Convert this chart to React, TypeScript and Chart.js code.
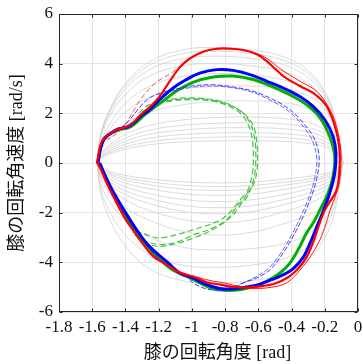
import React, { useEffect, useRef } from 'react';
import { Chart, registerables } from 'chart.js';
Chart.register(...registerables);

type P = [number, number];

const X_TICKS = [-1.8, -1.6, -1.4, -1.2, -1, -0.8, -0.6, -0.4, -0.2, 0];
const X_TICK_LABELS = ['-1.8', '-1.6', '-1.4', '-1.2', '-1', '-0.8', '-0.6', '-0.4', '-0.2', '0'];
const Y_TICKS = [-6, -4, -2, 0, 2, 4, 6];
const Y_TICK_LABELS = ['-6', '-4', '-2', '0', '2', '4', '6'];

const X_TITLE = '\u2002\u2002膝の回転角度 [rad]';
const Y_TITLE = '膝の回転角速度 [rad/s]';

// background reference trajectories (gray)
const GRAY_X = [-1.57, -1.55, -1.5, -1.4, -1.25, -1.05, -0.85, -0.65, -0.45, -0.3, -0.2, -0.14, -0.09];
const GRAY_UPPER: number[][] = [
  [0, 1.12, 2.09, 3.21, 4.09, 4.56, 4.65, 4.56, 4.28, 3.72, 2.88, 1.86, 0],
  [0, 1.08, 2.03, 3.11, 3.96, 4.41, 4.5, 4.41, 4.14, 3.6, 2.79, 1.8, 0],
  [0, 1.03, 1.94, 2.97, 3.78, 4.21, 4.3, 4.21, 3.96, 3.44, 2.67, 1.72, 0],
  [0, 0.96, 1.8, 2.76, 3.52, 3.92, 4.0, 3.92, 3.68, 3.2, 2.48, 1.6, 0],
  [0, 0.8, 1.5, 2.4, 3.1, 3.5, 3.6, 3.55, 3.35, 2.95, 2.35, 1.5, 0],
  [0, 0.7, 1.3, 2.05, 2.65, 2.98, 3.08, 3.1, 3.0, 2.7, 2.2, 1.4, 0],
  [0, 0.5, 0.95, 1.55, 2.05, 2.35, 2.48, 2.5, 2.43, 2.2, 1.8, 1.13, 0],
  [0, 0.37, 0.7, 1.15, 1.52, 1.74, 1.83, 1.85, 1.79, 1.63, 1.33, 0.83, 0],
  [0, 0.32, 0.62, 1.0, 1.33, 1.52, 1.6, 1.62, 1.57, 1.43, 1.17, 0.73, 0],
  [0, 0.28, 0.54, 0.88, 1.16, 1.33, 1.41, 1.42, 1.38, 1.25, 1.02, 0.64, 0],
  [0, 0.24, 0.46, 0.76, 1.0, 1.15, 1.21, 1.22, 1.18, 1.07, 0.88, 0.55, 0],
  [0, 0.21, 0.4, 0.65, 0.86, 0.99, 1.04, 1.05, 1.02, 0.92, 0.76, 0.47, 0],
  [0, 0.18, 0.34, 0.56, 0.74, 0.85, 0.89, 0.9, 0.87, 0.79, 0.65, 0.41, 0],
];
const GRAY_LOWER: number[][] = [
  [0, -1.16, -2.18, -3.35, -4.27, -4.75, -4.85, -4.75, -4.46, -3.88, -3.01, -1.94, 0],
  [0, -1.01, -1.89, -2.9, -3.7, -4.12, -4.2, -4.12, -3.86, -3.36, -2.6, -1.68, 0],
  [0, -0.8, -1.5, -2.3, -3.0, -3.4, -3.5, -3.45, -3.25, -2.85, -2.25, -1.45, 0],
  [0, -0.58, -1.16, -1.8, -2.32, -2.76, -2.9, -2.8, -2.45, -2.1, -1.7, -1.1, 0],
  [0, -0.48, -0.96, -1.49, -1.92, -2.28, -2.4, -2.3, -1.97, -1.63, -1.3, -0.86, 0],
  [0, -0.41, -0.82, -1.27, -1.64, -1.95, -2.05, -1.97, -1.68, -1.39, -1.11, -0.74, 0],
  [0, -0.36, -0.72, -1.12, -1.44, -1.71, -1.8, -1.73, -1.48, -1.22, -0.97, -0.65, 0],
  [0, -0.31, -0.62, -0.96, -1.24, -1.47, -1.55, -1.49, -1.27, -1.05, -0.84, -0.56, 0],
  [0, -0.26, -0.52, -0.81, -1.04, -1.24, -1.3, -1.25, -1.07, -0.88, -0.7, -0.47, 0],
  [0, -0.22, -0.44, -0.68, -0.88, -1.05, -1.1, -1.06, -0.9, -0.75, -0.59, -0.4, 0],
  [0, -0.19, -0.38, -0.59, -0.76, -0.9, -0.95, -0.91, -0.78, -0.65, -0.51, -0.34, 0],
  [0, -0.16, -0.32, -0.5, -0.64, -0.76, -0.8, -0.77, -0.66, -0.54, -0.43, -0.29, 0],
];

const RED_MAIN: P[] = [
  [-1.57, 0], [-1.555, 0.6], [-1.53, 1.0], [-1.49, 1.2], [-1.44, 1.38], [-1.395, 1.45], [-1.354, 1.62],
  [-1.314, 1.9], [-1.254, 2.25], [-1.194, 2.68], [-1.133, 3.3], [-1.073, 3.85], [-1.013, 4.2], [-0.933, 4.48],
  [-0.852, 4.6], [-0.76, 4.6], [-0.67, 4.52], [-0.6, 4.35], [-0.55, 4.1], [-0.5, 3.8], [-0.45, 3.5],
  [-0.35, 3.1], [-0.27, 2.82], [-0.19, 2.3], [-0.14, 1.5], [-0.112, 0.6], [-0.112, -0.3], [-0.13, -1.1],
  [-0.2, -1.9], [-0.235, -2.5], [-0.27, -3.2], [-0.31, -3.8], [-0.36, -4.25], [-0.42, -4.6], [-0.5, -4.85],
  [-0.59, -4.97], [-0.67, -5.02], [-0.75, -4.99], [-0.83, -4.9], [-0.91, -4.8], [-0.99, -4.58], [-1.07, -4.43],
  [-1.15, -4.1], [-1.23, -3.78], [-1.29, -3.3], [-1.35, -2.75], [-1.41, -2.15], [-1.46, -1.5], [-1.51, -0.85],
  [-1.545, -0.3], [-1.57, 0],
];
const RED_THIN: P[] = [
  [-1.575, 0], [-1.56, 0.5], [-1.535, 0.95], [-1.5, 1.15], [-1.45, 1.32], [-1.4, 1.42], [-1.36, 1.58],
  [-1.32, 1.85], [-1.26, 2.2], [-1.2, 2.62], [-1.14, 3.22], [-1.08, 3.78], [-1.02, 4.18], [-0.94, 4.45],
  [-0.86, 4.58], [-0.78, 4.6], [-0.7, 4.55], [-0.62, 4.42], [-0.55, 4.22], [-0.48, 3.85], [-0.42, 3.58],
  [-0.33, 3.22], [-0.26, 2.95], [-0.2, 2.5], [-0.14, 1.7], [-0.105, 0.6], [-0.105, -0.3], [-0.12, -1.0],
  [-0.167, -1.88], [-0.2, -2.6], [-0.238, -3.22], [-0.29, -3.8], [-0.33, -4.16], [-0.43, -4.83], [-0.55, -5.03],
  [-0.65, -5.05], [-0.72, -4.98], [-0.8, -4.83], [-0.87, -4.76], [-0.95, -4.63], [-1.02, -4.5], [-1.1, -4.3],
  [-1.18, -3.98], [-1.25, -3.6], [-1.31, -3.1], [-1.37, -2.55], [-1.43, -1.95], [-1.48, -1.3], [-1.52, -0.7],
  [-1.55, -0.2], [-1.575, 0],
];
const RED_DASH: P[] = [
  [-1.52, 0.95], [-1.475, 1.07], [-1.41, 1.47], [-1.36, 2.0], [-1.31, 2.55], [-1.22, 3.22], [-1.11, 3.69], [-1.03, 4.16],
];
const BLUE_MAIN: P[] = [
  [-1.565, 0], [-1.55, 0.6], [-1.525, 1.0], [-1.485, 1.22], [-1.44, 1.38], [-1.39, 1.45], [-1.35, 1.62],
  [-1.31, 1.88], [-1.254, 2.15], [-1.194, 2.55], [-1.113, 3.02], [-1.033, 3.36], [-0.953, 3.62], [-0.852, 3.76],
  [-0.752, 3.73], [-0.651, 3.56], [-0.551, 3.3], [-0.45, 3.02], [-0.35, 2.68], [-0.27, 2.28], [-0.2, 1.74],
  [-0.15, 1.07], [-0.133, 0.4], [-0.14, -0.4], [-0.17, -1.21], [-0.21, -1.95], [-0.25, -2.6], [-0.288, -3.22],
  [-0.33, -3.8], [-0.39, -4.25], [-0.45, -4.5], [-0.52, -4.7], [-0.6, -4.9], [-0.68, -5.0], [-0.752, -5.07],
  [-0.832, -5.05], [-0.912, -4.9], [-0.993, -4.63], [-1.073, -4.43], [-1.153, -3.96], [-1.214, -3.62],
  [-1.274, -3.22], [-1.334, -2.68], [-1.39, -2.1], [-1.44, -1.55], [-1.49, -0.95], [-1.53, -0.4], [-1.555, 0],
];
const BLUE_DASH: P[] = [
  [-1.5, 1.1], [-1.44, 1.35], [-1.38, 1.7], [-1.32, 2.2], [-1.27, 2.55], [-1.2, 2.8], [-1.113, 2.95],
  [-0.993, 3.11], [-0.872, 3.15], [-0.752, 3.06], [-0.631, 2.89], [-0.51, 2.55], [-0.41, 2.15], [-0.33, 1.61],
  [-0.27, 1.07], [-0.24, 0.54], [-0.234, 0], [-0.25, -0.67], [-0.28, -1.34], [-0.33, -2.15], [-0.39, -2.95],
  [-0.45, -3.62], [-0.53, -4.3], [-0.61, -4.63], [-0.69, -4.83], [-0.772, -5.1], [-0.852, -5.13], [-0.932, -5.03],
  [-0.993, -4.83], [-1.033, -4.56], [-1.093, -4.3], [-1.153, -4.03], [-1.214, -3.76], [-1.26, -3.4], [-1.3, -3.0],
];
const BLUE_DASH2: P[] = [
  [-1.2, 2.75], [-1.11, 2.9], [-0.99, 3.06], [-0.87, 3.1], [-0.75, 3.02], [-0.63, 2.84], [-0.52, 2.5],
  [-0.42, 2.1], [-0.345, 1.6], [-0.285, 1.05], [-0.255, 0.5], [-0.248, 0], [-0.262, -0.65], [-0.292, -1.32],
  [-0.342, -2.12], [-0.4, -2.9], [-0.46, -3.58], [-0.54, -4.25], [-0.62, -4.6], [-0.7, -4.85], [-0.78, -5.05],
];
const GREEN_MAIN: P[] = [
  [-1.565, 0], [-1.55, 0.6], [-1.525, 1.0], [-1.48, 1.22], [-1.43, 1.35], [-1.38, 1.42], [-1.34, 1.6],
  [-1.3, 1.85], [-1.254, 2.1], [-1.173, 2.5], [-1.093, 2.9], [-0.993, 3.25], [-0.872, 3.46], [-0.752, 3.5],
  [-0.631, 3.36], [-0.51, 3.06], [-0.39, 2.68], [-0.29, 2.25], [-0.22, 1.74], [-0.17, 1.07], [-0.14, 0.27],
  [-0.15, -0.54], [-0.18, -1.21], [-0.228, -1.88], [-0.27, -2.42], [-0.31, -2.82], [-0.35, -3.36], [-0.41, -4.03],
  [-0.47, -4.43], [-0.55, -4.77], [-0.631, -4.99], [-0.711, -5.1], [-0.792, -5.13], [-0.872, -5.07], [-0.953, -4.83],
  [-1.033, -4.56], [-1.113, -4.32], [-1.194, -3.89], [-1.254, -3.49], [-1.314, -2.98], [-1.374, -2.42],
  [-1.43, -1.8], [-1.48, -1.15], [-1.525, -0.5], [-1.555, 0],
];
const GREEN_DASH1: P[] = [
  [-1.32, 2.0], [-1.27, 2.3], [-1.214, 2.42], [-1.113, 2.58], [-0.993, 2.62], [-0.872, 2.55], [-0.772, 2.35],
  [-0.691, 2.01], [-0.641, 1.48], [-0.621, 0.94], [-0.615, 0.27], [-0.621, -0.4], [-0.641, -0.94], [-0.675, -1.45],
  [-0.71, -1.6], [-0.81, -2.41], [-0.99, -3.02], [-1.19, -3.36], [-1.274, -3.22], [-1.344, -2.82],
];
const GREEN_DASH2: P[] = [
  [-1.3, 2.05], [-1.22, 2.35], [-1.12, 2.5], [-1.0, 2.55], [-0.88, 2.5], [-0.78, 2.3], [-0.7, 1.95],
  [-0.655, 1.45], [-0.635, 0.9], [-0.63, 0.25], [-0.635, -0.4], [-0.655, -0.95], [-0.69, -1.5], [-0.77, -2.2],
  [-0.87, -2.6], [-0.99, -2.9], [-1.1, -3.2], [-1.2, -3.28], [-1.3, -3.1], [-1.36, -2.8],
];
const GREEN_DASH3: P[] = [
  [-1.3, 2.0], [-1.2, 2.4], [-1.1, 2.55], [-0.99, 2.58], [-0.87, 2.52], [-0.77, 2.32], [-0.685, 1.98],
  [-0.63, 1.5], [-0.61, 0.9], [-0.605, 0.27], [-0.61, -0.4], [-0.635, -0.95], [-0.665, -1.2], [-0.69, -1.34],
  [-0.81, -2.21], [-0.99, -2.68], [-1.19, -3.02], [-1.26, -2.92], [-1.33, -2.75],
];

const FONT = "'Liberation Serif', 'Times New Roman', 'Noto Sans CJK JP', serif";
const TITLE_FONT = "'Liberation Serif', 'Noto Sans CJK JP', serif";

const toXY = (pts: P[]) => pts.map(([x, y]) => ({ x, y }));

const boxPlugin = {
  id: 'boxFrame',
  afterDatasetsDraw(chart: any) {
    const { ctx, chartArea: a, scales } = chart;
    ctx.save();
    ctx.strokeStyle = '#262626';
    ctx.lineWidth = 1;
    const l = Math.round(a.left) + 0.5, r = Math.round(a.right) - 0.5;
    const t = Math.round(a.top) + 0.5, b = Math.round(a.bottom) - 0.5;
    ctx.strokeRect(l, t, r - l, b - t);
    ctx.beginPath();
    X_TICKS.forEach((v) => {
      const px = Math.round(scales.x.getPixelForValue(v)) + 0.5;
      ctx.moveTo(px, b); ctx.lineTo(px, b - 3);
      ctx.moveTo(px, t); ctx.lineTo(px, t + 3);
    });
    Y_TICKS.forEach((v) => {
      const py = Math.round(scales.y.getPixelForValue(v)) + 0.5;
      ctx.moveTo(l, py); ctx.lineTo(l + 3, py);
      ctx.moveTo(r, py); ctx.lineTo(r - 3, py);
    });
    ctx.stroke();
    ctx.restore();
  },
};

export default function App() {
  const ref = useRef<HTMLCanvasElement | null>(null);
  useEffect(() => {
    document.body.style.margin = '0';
    if (!ref.current) return;
    const line = (pts: P[], color: string, width: number, dash: number[] = [], order = 1) => ({
      data: toXY(pts),
      borderColor: color,
      backgroundColor: color,
      borderWidth: width,
      borderDash: dash,
      pointRadius: 0,
      showLine: true,
      tension: 0.35,
      fill: false,
      order,
    });
    const grays = GRAY_UPPER.concat(GRAY_LOWER).map((ys) => ({
      data: GRAY_X.map((x, i) => ({ x, y: ys[i] })),
      borderColor: 'rgb(208,208,208)',
      borderWidth: 0.8,
      pointRadius: 0,
      showLine: true,
      tension: 0.4,
      fill: false,
      order: 20,
    }));
    const chart = new Chart(ref.current, {
      type: 'scatter',
      data: {
        datasets: [
          line(RED_MAIN, '#ff0000', 2.2, [], 0),
          line(RED_THIN, 'rgba(255,0,0,0.9)', 1, [], 1),
          line(RED_DASH, 'rgba(235,40,40,0.8)', 1, [5, 3], 1),
          line(BLUE_MAIN, '#0000ff', 3, [], 2),
          line(BLUE_DASH, 'rgba(40,40,255,0.9)', 1, [5, 2], 3),
          line(BLUE_DASH2, 'rgba(40,40,255,0.7)', 1, [5, 2], 3),
          line(GREEN_MAIN, '#00b000', 3, [], 3),
          line(GREEN_DASH1, 'rgba(50,190,50,0.9)', 1.2, [6, 3], 4),
          line(GREEN_DASH2, 'rgba(50,190,50,0.9)', 1.2, [6, 3], 4),
          line(GREEN_DASH3, 'rgba(50,190,50,0.9)', 1.2, [6, 3], 4),
          ...grays,
        ] as any,
      },
      options: {
        animation: false,
        responsive: false,
        layout: { padding: { left: 0, top: 14, right: 5, bottom: 0 } },
        plugins: { legend: { display: false }, tooltip: { enabled: false } },
        scales: {
          x: {
            type: 'linear',
            min: -1.8,
            max: 0,
            afterBuildTicks: (s: any) => { s.ticks = X_TICKS.map((v) => ({ value: v })); },
            afterFit: (s: any) => { s.height = 52; s.paddingRight = 0; s.paddingLeft = 0; },
            ticks: {
              autoSkip: false,
              maxRotation: 0,
              padding: 5,
              color: '#111',
              font: { family: FONT, size: 17 },
              callback: (v: any) => { const i = X_TICKS.findIndex((t) => Math.abs(t - v) < 1e-6); return i >= 0 ? X_TICK_LABELS[i] : ''; },
            },
            grid: { color: 'rgb(228,228,228)', drawTicks: false },
            border: { display: false },
            title: { display: true, text: X_TITLE, color: '#111', font: { family: TITLE_FONT, size: 18 }, padding: { top: 0, bottom: 0 } },
          },
          y: {
            type: 'linear',
            min: -6,
            max: 6,
            afterBuildTicks: (s: any) => { s.ticks = Y_TICKS.map((v) => ({ value: v })); },
            afterFit: (s: any) => { s.width = 59; s.paddingTop = 0; s.paddingBottom = 0; },
            ticks: {
              autoSkip: false,
              padding: 6,
              color: '#111',
              font: { family: FONT, size: 17 },
              callback: (v: any) => { const i = Y_TICKS.indexOf(v); return i >= 0 ? Y_TICK_LABELS[i] : ''; },
            },
            grid: { color: 'rgb(228,228,228)', drawTicks: false },
            border: { display: false },
            title: { display: true, text: Y_TITLE, color: '#111', font: { family: TITLE_FONT, size: 18 }, padding: { top: 6, bottom: 0 } },
          },
        },
      },
      plugins: [boxPlugin],
    });
    return () => chart.destroy();
  }, []);
  return <canvas ref={ref} width={363} height={364} style={{ display: 'block', width: 363, height: 364 }} />;
}
